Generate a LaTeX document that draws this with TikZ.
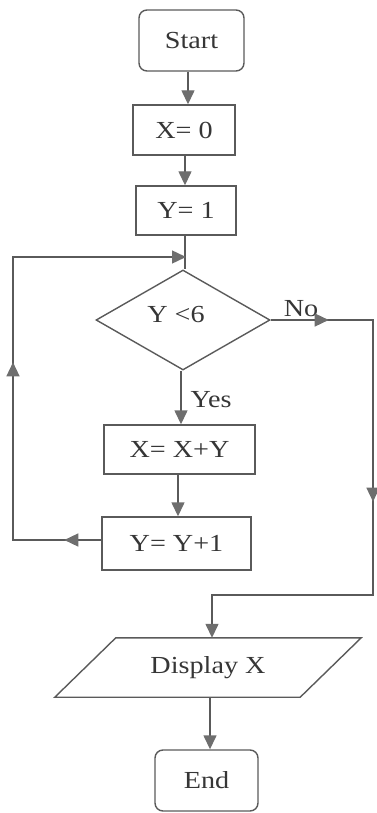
\documentclass[tikz,border=0pt]{standalone}
\usepackage{fontspec}
\setmainfont{Liberation Serif}[FakeStretch=1.15]
\usetikzlibrary{arrows.meta,decorations.markings,calc,shapes.geometric}
\definecolor{linec}{HTML}{5A5A5A}
\definecolor{textc}{HTML}{363636}
\definecolor{tipc}{HTML}{6E6E6E}
\tikzset{
  conn/.style={draw=linec, line width=1.4pt},
  tip/.tip={Triangle[length=14pt,width=13pt,color=tipc]},
  midarrows/.style 2 args={postaction={decorate},
    decoration={markings,
      mark=at position #1 with {\arrow{tip}},
      mark=at position #2 with {\arrow{tip}}}},
  txt/.style={text=textc, font=\fontsize{24.5}{28}\selectfont, inner sep=0pt},
  procbox/.style={txt, draw=linec, line width=1.4pt, rectangle},
  termbox/.style={procbox, rounded corners=8pt},
}
\begin{document}
\begin{tikzpicture}[x=1pt,y=-1pt]
\useasboundingbox (0,0) rectangle (376,813);

% nodes
\node[termbox, minimum width=105pt, minimum height=61pt] (start) at (191.5,40.5) {Start};
\node[procbox, minimum width=102pt, minimum height=50pt] (x0) at (184,130) {X= 0};
\node[procbox, minimum width=100pt, minimum height=49pt] (y1) at (186,210.5) {Y= 1};
\node[diamond, draw=linec, line width=1.4pt, inner sep=0pt, minimum width=174pt, minimum height=100pt] (dia) at (183,320) {};
\node[txt] (cond) at (176,315) {Y <6};
\node[procbox, minimum width=151pt, minimum height=49pt] (xy) at (179.5,449.5) {X= X+Y};
\node[procbox, minimum width=149pt, minimum height=53pt] (yy) at (176.5,543.5) {Y= Y+1};
\node[txt, minimum width=245pt, minimum height=59pt] (disp) at (208,667.5) {Display X};
\draw[conn] ($(disp.north west)+(30.5,0)$) -- ($(disp.north east)+(30.5,0)$)
  -- ($(disp.south east)+(-30.5,0)$) -- ($(disp.south west)+(-30.5,0)$) -- cycle;
\node[termbox, minimum width=103pt, minimum height=61pt] (end) at (206.5,780.5) {End};

\node[txt] (no) at (301,309) {No};
\node[txt] (yes) at (211,400) {Yes};

% helper coordinates
\coordinate (lb) at (13,540);
\coordinate (lt) at (13,257);
\coordinate (jn) at (186,257);
\coordinate (nr) at (373,320);
\coordinate (nb) at (373,595);
\coordinate (nd) at (212,595);

% connectors
\draw[conn,-{tip}] (start.south -| 188,0) -- (x0.north -| 188,0);
\draw[conn,-{tip}] (x0.south -| 185,0) -- (y1.north -| 185,0);
\draw[conn] (y1.south -| 185,0) -- (dia.north -| 185,0);
\draw[conn,-{tip},midarrows={37pt}{266pt}] (yy.west |- lb) -- (lb) -- (lt) -- (jn);
\draw[conn,-{tip}] (dia.south -| 181,0) -- (xy.north -| 181,0);
\draw[conn,-{tip}] (xy.south -| 178,0) -- (yy.north -| 178,0);
\draw[conn,-{tip},midarrows={58pt}{284pt}] (dia.east) -- (nr) -- (nb) -- (nd) -- (nd |- disp.north);
\draw[conn,-{tip}] (disp.south -| 210,0) -- (end.north -| 210,0);
\end{tikzpicture}
\end{document}
